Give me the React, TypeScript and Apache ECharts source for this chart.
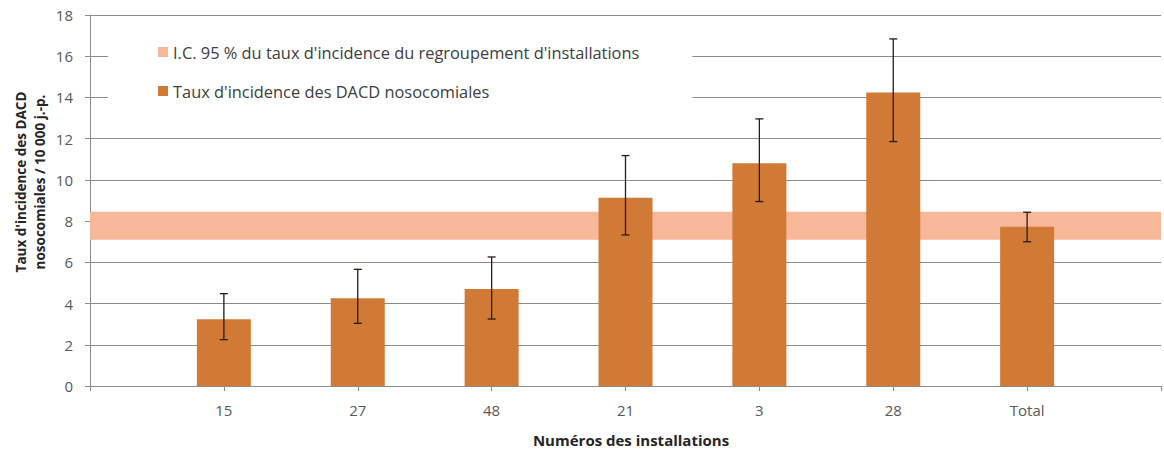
import React, { useEffect, useRef } from "react";
import * as echarts from "echarts";

const categories = ["15", "27", "48", "21", "3", "28", "Total"];
const rates = [3.24, 4.26, 4.71, 9.13, 10.81, 14.24, 7.73];
const ciLow = [2.25, 3.04, 3.25, 7.33, 8.95, 11.86, 7.0];
const ciHigh = [4.48, 5.66, 6.26, 11.18, 12.96, 16.84, 8.43];
const groupCI = [7.1, 8.45];
const yTicks = { min: 0, max: 18, interval: 2 };

const BAND_NAME = "I.C. 95 % du taux d'incidence du regroupement d'installations";
const BAR_NAME = "Taux d'incidence des DACD nosocomiales";
const FONT = "'Open Sans', Lato, sans-serif";

export default function App() {
  const ref = useRef<HTMLDivElement>(null);
  useEffect(() => {
    if (!ref.current) return;
    const chart = echarts.init(ref.current, undefined, { renderer: "svg" });
    const axisCats = ["", ...categories, ""];
    const barData = [null, ...rates, null];
    const errData = categories.map((_, i) => [i + 1, ciLow[i], ciHigh[i]]);
    chart.setOption({
      animation: false,
      backgroundColor: "#ffffff",
      textStyle: { fontFamily: FONT },
      grid: { left: 90, right: -8, top: 15, bottom: 65, containLabel: false },
      legend: {
        orient: "vertical",
        left: 108,
        top: 31,
        padding: [13, 53, 13, 50],
        backgroundColor: "#ffffff",
        itemWidth: 10,
        itemHeight: 10,
        itemGap: 23,
        icon: "rect",
        textStyle: { fontFamily: FONT, fontSize: 16.4, color: "#404040" },
        data: [BAND_NAME, BAR_NAME],
        z: 10,
      },
      xAxis: {
        type: "category",
        data: axisCats,
        boundaryGap: false,
        axisLine: { show: true, lineStyle: { color: "#8c8c8c", width: 1 } },
        axisTick: { show: true, length: 5, lineStyle: { color: "#8c8c8c" } },
        axisLabel: { color: "#595959", fontSize: 15, margin: 16, fontFamily: FONT },
        splitLine: { show: false },
      },
      yAxis: {
        type: "value",
        min: yTicks.min,
        max: yTicks.max,
        interval: yTicks.interval,
        axisLine: { show: true, lineStyle: { color: "#8c8c8c", width: 1 } },
        axisTick: { show: true, length: 5, lineStyle: { color: "#8c8c8c" } },
        axisLabel: { color: "#595959", fontSize: 15, margin: 17, fontFamily: FONT },
        splitLine: { show: true, lineStyle: { color: "#8c8c8c", width: 1 } },
      },
      graphic: [
        {
          type: "text",
          x: 30,
          y: 182,
          rotation: Math.PI / 2,
          z: 20,
          style: {
            text: "Taux d'incidence des DACD\nnosocomiales / 10 000 j.-p.",
            fontFamily: FONT,
            fontSize: 13.5,
            fontWeight: "bold",
            fill: "#262626",
            align: "center",
            verticalAlign: "middle",
            lineHeight: 19,
          },
        },
        {
          type: "text",
          x: 631,
          y: 440,
          style: {
            text: "Numéros des installations",
            fontFamily: FONT,
            fontSize: 15,
            fontWeight: "bold",
            fill: "#262626",
            align: "center",
            verticalAlign: "middle",
          },
        },
      ],
      series: [
        {
          name: BAND_NAME,
          type: "bar",
          data: [],
          z: 1,
          itemStyle: { color: "#F7B89A" },
          markArea: {
            silent: true,
            itemStyle: { color: "#F7B89A", opacity: 1 },
            label: { show: false },
            data: [[{ yAxis: groupCI[0] }, { yAxis: groupCI[1] }]],
          },
        },
        {
          name: BAR_NAME,
          type: "bar",
          data: barData,
          barWidth: 54,
          z: 3,
          itemStyle: { color: "#D07A36" },
        },
        {
          type: "custom",
          z: 5,
          data: errData,
          renderItem: (params: any, api: any) => {
            const x = api.value(0);
            const lo = api.coord([x, api.value(1)]);
            const hi = api.coord([x, api.value(2)]);
            const cap = 4;
            const style = { stroke: "#2a1a10", lineWidth: 1.3 };
            return {
              type: "group",
              children: [
                { type: "line", shape: { x1: lo[0], y1: lo[1], x2: hi[0], y2: hi[1] }, style },
                { type: "line", shape: { x1: lo[0] - cap, y1: lo[1], x2: lo[0] + cap, y2: lo[1] }, style },
                { type: "line", shape: { x1: hi[0] - cap, y1: hi[1], x2: hi[0] + cap, y2: hi[1] }, style },
              ],
            };
          },
        },
      ],
    });
    return () => chart.dispose();
  }, []);
  return (
    <div
      ref={ref}
      style={{ position: "absolute", left: 0, top: 0, width: 1164, height: 451 }}
    />
  );
}
